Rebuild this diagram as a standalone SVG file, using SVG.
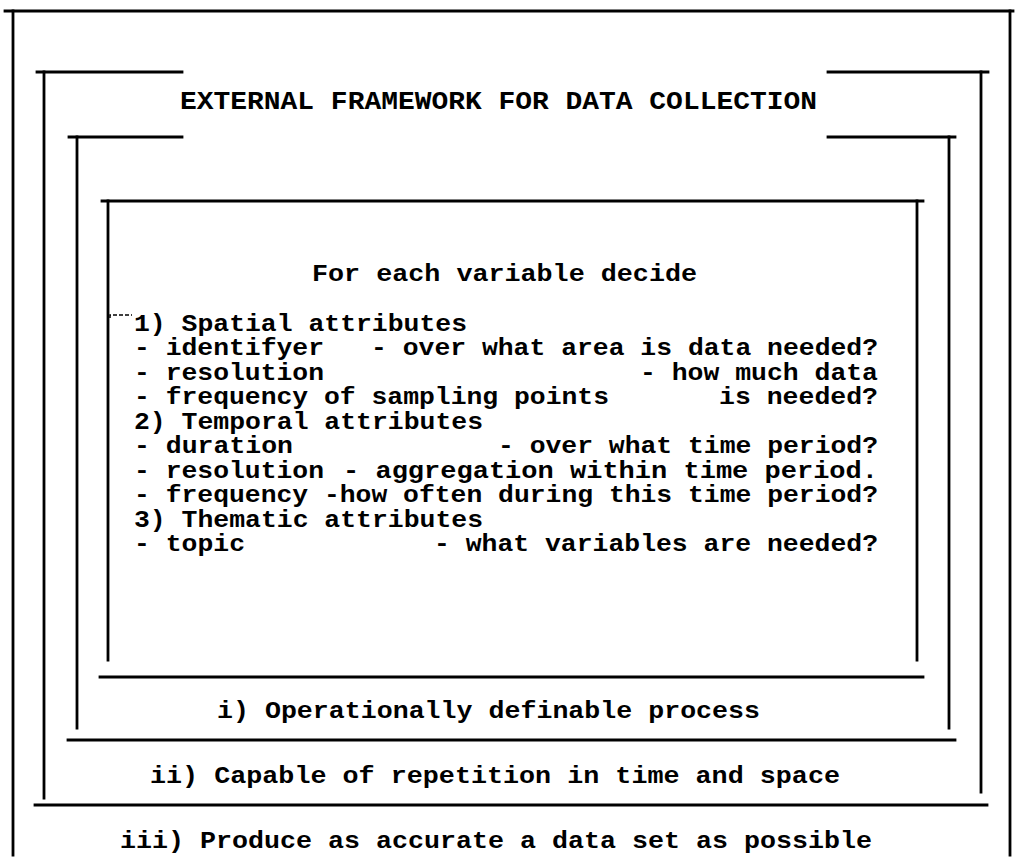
<svg xmlns="http://www.w3.org/2000/svg" width="1017" height="866" viewBox="0 0 1017 866">
<style>
.ln{stroke:#000;stroke-width:2.8;fill:none;stroke-linecap:square}
.tx{font-family:"Liberation Mono","DejaVu Sans Mono",monospace;font-size:24px;font-weight:bold;fill:#000}
.ti{font-family:"Liberation Mono","DejaVu Sans Mono",monospace;font-size:26px;font-weight:bold;fill:#000}
</style>
<rect width="1017" height="866" fill="#fff"/>
<g id="connectors">
<line class="ln" x1="5" y1="11" x2="1013" y2="11"/>
<line class="ln" x1="13" y1="11" x2="13" y2="855"/>
<line class="ln" x1="1010" y1="11" x2="1010" y2="855"/>
<line class="ln" x1="37" y1="72" x2="182" y2="72"/>
<line class="ln" x1="828" y1="72" x2="988" y2="72"/>
<line class="ln" x1="44" y1="72" x2="44" y2="798"/>
<line class="ln" x1="981" y1="72" x2="981" y2="792"/>
<line class="ln" x1="35" y1="805" x2="987" y2="805"/>
<line class="ln" x1="69" y1="137" x2="182" y2="137"/>
<line class="ln" x1="828" y1="137" x2="955" y2="137"/>
<line class="ln" x1="77" y1="137" x2="77" y2="728"/>
<line class="ln" x1="949" y1="137" x2="949" y2="728"/>
<line class="ln" x1="68" y1="740" x2="955" y2="740"/>
<line class="ln" x1="102" y1="201" x2="923" y2="201"/>
<line class="ln" x1="108" y1="201" x2="108" y2="660"/>
<line class="ln" x1="917" y1="201" x2="917" y2="660"/>
<line class="ln" x1="100" y1="677" x2="923" y2="677"/>
<path d="M110 318 V315 H132" stroke="#000" stroke-width="1.5" fill="none" stroke-dasharray="4 2"/>
</g>
<g id="title">
<text class="ti" x="180" y="109" textLength="637" lengthAdjust="spacingAndGlyphs">EXTERNAL FRAMEWORK FOR DATA COLLECTION</text>
</g>
<g id="inner-box">
<text class="tx" x="312" y="281" textLength="385" lengthAdjust="spacingAndGlyphs">For each variable decide</text>
<text class="tx" x="134" y="331" textLength="333" lengthAdjust="spacingAndGlyphs">1) Spatial attributes</text>
<text class="tx" x="134" y="355" textLength="190" lengthAdjust="spacingAndGlyphs">- identifyer</text>
<text class="tx" x="371" y="355" textLength="507" lengthAdjust="spacingAndGlyphs">- over what area is data needed?</text>
<text class="tx" x="134" y="380" textLength="190" lengthAdjust="spacingAndGlyphs">- resolution</text>
<text class="tx" x="640" y="380" textLength="238" lengthAdjust="spacingAndGlyphs">- how much data</text>
<text class="tx" x="134" y="404" textLength="475" lengthAdjust="spacingAndGlyphs">- frequency of sampling points</text>
<text class="tx" x="719" y="404" textLength="159" lengthAdjust="spacingAndGlyphs">is needed?</text>
<text class="tx" x="134" y="429" textLength="349" lengthAdjust="spacingAndGlyphs">2) Temporal attributes</text>
<text class="tx" x="134" y="453" textLength="159" lengthAdjust="spacingAndGlyphs">- duration</text>
<text class="tx" x="498" y="453" textLength="380" lengthAdjust="spacingAndGlyphs">- over what time period?</text>
<text class="tx" x="134" y="478" textLength="190" lengthAdjust="spacingAndGlyphs">- resolution</text>
<text class="tx" x="343" y="478" textLength="535" lengthAdjust="spacingAndGlyphs">- aggregation within time period.</text>
<text class="tx" x="134" y="502" textLength="744" lengthAdjust="spacingAndGlyphs" xml:space="preserve">- frequency -how often during this time period?</text>
<text class="tx" x="134" y="527" textLength="349" lengthAdjust="spacingAndGlyphs">3) Thematic attributes</text>
<text class="tx" x="134" y="551" textLength="111" lengthAdjust="spacingAndGlyphs">- topic</text>
<text class="tx" x="434" y="551" textLength="444" lengthAdjust="spacingAndGlyphs">- what variables are needed?</text>
</g>
<g id="criterion-i">
<text class="tx" x="217" y="718" textLength="543" lengthAdjust="spacingAndGlyphs">i) Operationally definable process</text>
</g>
<g id="criterion-ii">
<text class="tx" x="150" y="783" textLength="690" lengthAdjust="spacingAndGlyphs">ii) Capable of repetition in time and space</text>
</g>
<g id="criterion-iii">
<text class="tx" x="120" y="848" textLength="752" lengthAdjust="spacingAndGlyphs">iii) Produce as accurate a data set as possible</text>
</g>
</svg>
